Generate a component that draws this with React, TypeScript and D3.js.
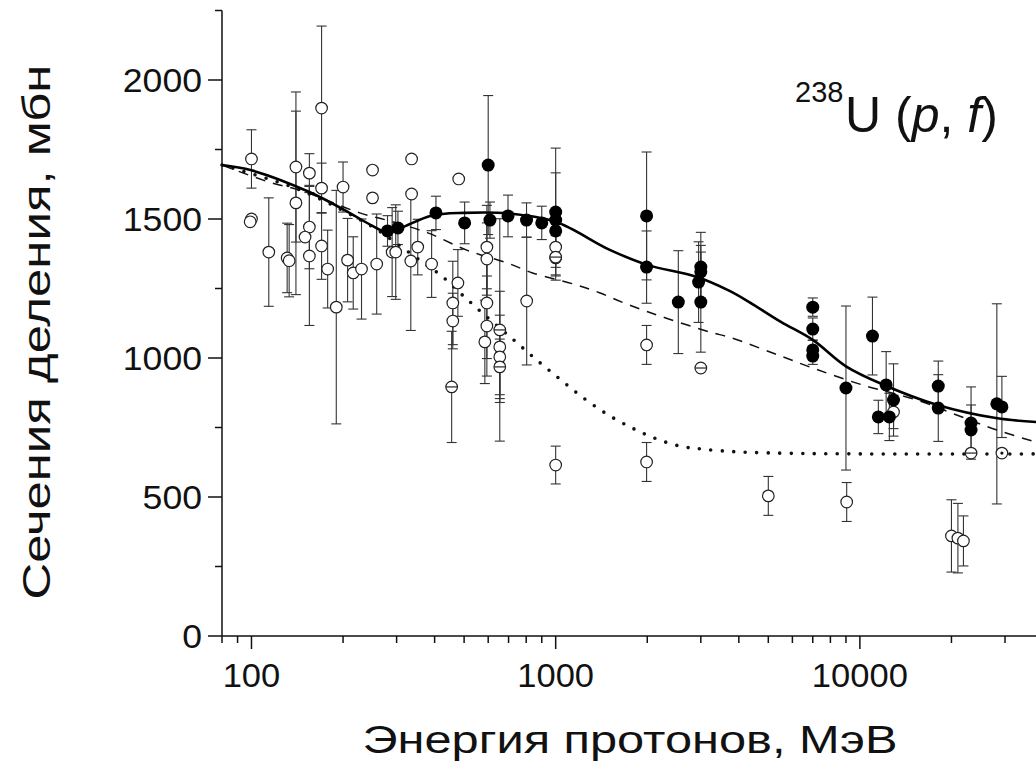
import * as d3 from 'd3';

const W = 1036;
const H = 773;

const X_TICKS = [100, 1000, 10000];
const Y_TICKS = [0, 500, 1000, 1500, 2000];
const Y_MINOR = [250, 750, 1250, 1750, 2250];

// model curves: [energy MeV, cross-section mb]
const solidCurve: [number, number][] = [
  [80, 1694], [100, 1675], [155, 1597], [210, 1522], [250, 1475], [278, 1453], [310, 1468],
  [390, 1512], [500, 1522], [700, 1520], [1000, 1490], [1500, 1390], [2000, 1335],
  [2900, 1292], [3700, 1243], [4300, 1203], [5500, 1130], [7000, 1065], [9000, 970],
  [12000, 903], [18000, 831], [28000, 784], [40000, 768],
];

const dashedCurve: [number, number][] = [
  [80, 1694], [117, 1629], [144, 1604], [227, 1522], [278, 1496], [380, 1450], [510, 1388],
  [700, 1340], [840, 1306], [1170, 1263], [1400, 1234], [1650, 1201], [1930, 1173],
  [2300, 1144], [3200, 1094], [3800, 1072], [5170, 1018], [7000, 964], [10200, 903],
  [15400, 849], [20800, 795], [28200, 741], [40000, 690],
];

const dottedCurve: [number, number][] = [
  [80, 1694], [140, 1610], [200, 1530], [260, 1460], [314, 1396], [370, 1340], [422, 1295],
  [502, 1219], [599, 1144], [722, 1068], [866, 993], [1040, 921], [1245, 853], [1490, 795],
  [1785, 748], [2110, 712], [2560, 683], [3050, 672], [4030, 662], [6000, 657],
  [10000, 655], [40000, 655],
];

// experimental points: [energy, cross-section, error]
const filledPoints: [number, number, number][] = [
  [280, 1457, 55], [303, 1468, 60], [404, 1522, 60], [502, 1486, 75], [600, 1694, 250],
  [608, 1496, 65], [697, 1511, 75], [802, 1496, 62], [900, 1486, 60], [1000, 1525, 230],
  [1000, 1496, 170], [1000, 1457, 60], [1990, 1511, 230], [1990, 1327, 130],
  [2530, 1201, 185], [3000, 1327, 125], [3000, 1310, 95], [2950, 1273, 145], [3000, 1201, 180],
  [7000, 1183, 33], [7000, 1104, 40], [7000, 1029, 35], [7000, 1007, 30], [9000, 892, 295],
  [11000, 1079, 140], [12200, 903, 120], [11500, 788, 60], [12500, 788, 85], [12900, 849, 130],
  [18100, 899, 90], [18100, 820, 120], [23200, 766, 130], [23200, 741, 90], [28200, 835, 360],
  [29300, 824, 110],
];

const openPoints: [number, number, number][] = [
  [100, 1716, 105], [100, 1500, 0], [99, 1490, 0], [114, 1381, 195], [131, 1360, 125],
  [133, 1350, 130], [140, 1687, 270], [140, 1558, 330], [155, 1665, 70], [155, 1471, 150],
  [150, 1435, 0], [155, 1367, 250], [170, 1899, 295], [170, 1611, 90], [170, 1403, 120],
  [178, 1320, 140], [190, 1183, 420], [200, 1615, 90], [207, 1352, 150], [216, 1306, 130],
  [230, 1320, 180], [250, 1676, 0], [250, 1576, 0], [258, 1338, 180], [290, 1381, 160],
  [298, 1381, 170], [336, 1716, 0], [336, 1590, 0], [334, 1349, 250], [352, 1399, 100],
  [391, 1338, 120], [480, 1644, 0], [477, 1270, 120], [459, 1198, 150], [459, 1133, 100],
  [594, 1399, 150], [594, 1356, 130], [594, 1198, 200], [594, 1115, 180], [585, 1058, 150],
  [655, 1040, 200], [655, 1004, 150], [803, 1205, 230], [1000, 1399, 100], [1000, 1360, 80],
  [1000, 615, 68], [1990, 1047, 70], [1990, 626, 70], [5000, 504, 70], [9050, 482, 70],
  [12900, 806, 60], [20000, 360, 130], [21000, 352, 125], [21900, 342, 90],
];

// open circles with a horizontal bar through them
const barredPoints: [number, number, number][] = [
  [455, 896, 200], [655, 1101, 400], [655, 968, 100], [1000, 1363, 0], [3000, 964, 0],
  [23200, 658, 0],
];

// open circle with a dot inside
const dottedPoints: [number, number, number][] = [[29300, 658, 0]];

const x = d3.scaleLog().domain([80, 40000]).range([222, 222 + 304.2 * Math.log10(40000 / 80)]);
const y = d3.scaleLinear().domain([0, 2250]).range([636, 636 - 2250 * 0.278]);

const xMinor: number[] = [];
[10, 100, 1000, 10000].forEach(d => {
  for (let k = 2; k <= 9; k++) {
    const v = k * d;
    if (v >= 80 && v <= 40000 && !X_TICKS.includes(v)) xMinor.push(v);
  }
});

const line = d3.line<[number, number]>()
  .x(d => x(d[0]))
  .y(d => y(d[1]))
  .curve(d3.curveCatmullRom);

const font = '"Liberation Sans", Arial, Helvetica, sans-serif';

function ErrorBar({ p }: { p: [number, number, number] }) {
  const [e, s, err] = p;
  if (!err) return null;
  const cx = x(e);
  const y1 = y(s + err), y2 = y(s - err);
  return (
    <g stroke="#333" strokeWidth={1.1}>
      <line x1={cx} x2={cx} y1={y1} y2={y2} />
      <line x1={cx - 5} x2={cx + 5} y1={y1} y2={y1} />
      <line x1={cx - 5} x2={cx + 5} y1={y2} y2={y2} />
    </g>
  );
}

export default function App() {
  const allBars = [...openPoints, ...barredPoints, ...dottedPoints, ...filledPoints];
  return (
    <svg width={W} height={H} style={{ position: 'absolute', left: 0, top: 0, background: '#fff' }}
      fontFamily={font}>
      <rect width={W} height={H} fill="#fff" />

      {/* axes */}
      <g stroke="#111" strokeWidth={1.5} fill="none">
        <line x1={222} x2={222} y1={y(2250)} y2={y(0)} />
        <line x1={222} x2={W} y1={y(0)} y2={y(0)} />
        {Y_TICKS.map(t => <line key={'yt' + t} x1={208} x2={222} y1={y(t)} y2={y(t)} />)}
        {Y_MINOR.map(t => <line key={'ym' + t} x1={215} x2={222} y1={y(t)} y2={y(t)} />)}
        {X_TICKS.map(t => <line key={'xt' + t} x1={x(t)} x2={x(t)} y1={y(0)} y2={y(0) + 13} />)}
        {xMinor.map(t => <line key={'xm' + t} x1={x(t)} x2={x(t)} y1={y(0)} y2={y(0) + 7} />)}
      </g>

      {Y_TICKS.map(t => (
        <text key={'yl' + t} x={202} y={y(t)} dy="0.36em" textAnchor="end" fontSize={33}
          textLength={String(t).length * 19.8} lengthAdjust="spacingAndGlyphs" fill="#111">{t}</text>
      ))}
      {X_TICKS.map(t => (
        <text key={'xl' + t} x={x(t)} y={687} textAnchor="middle" fontSize={33}
          textLength={String(t).length * 19.2} lengthAdjust="spacingAndGlyphs" fill="#111">{t}</text>
      ))}

      <text x={630} y={753} textAnchor="middle" fontSize={39} textLength={535} lengthAdjust="spacingAndGlyphs" fill="#111">
        Энергия протонов, МэВ
      </text>
      <text transform="translate(50,332) rotate(-90)" textAnchor="middle" fontSize={39} textLength={535}
        lengthAdjust="spacingAndGlyphs" fill="#111">
        Сечения деления, мбн
      </text>

      <text x={795} y={102} fontSize={29} fill="#111">238</text>
      <text x={845} y={132} fontSize={50} fill="#111">
        U (<tspan fontStyle="italic">p</tspan>, <tspan fontStyle="italic">f</tspan>)
      </text>

      {/* error bars */}
      {allBars.map((p, i) => <ErrorBar key={'eb' + i} p={p} />)}

      {/* curves */}
      <path d={line(dottedCurve) || ''} fill="none" stroke="#111" strokeWidth={3.6}
        strokeDasharray="0,11.5" strokeLinecap="round" />
      <path d={line(dashedCurve) || ''} fill="none" stroke="#111" strokeWidth={1.5} strokeDasharray="10,8" />
      <path d={line(solidCurve) || ''} fill="none" stroke="#000" strokeWidth={2.6} />

      {/* markers */}
      {openPoints.map((p, i) => (
        <circle key={'o' + i} cx={x(p[0])} cy={y(p[1])} r={5.8} fill="#fff" stroke="#222" strokeWidth={1.2} />
      ))}
      {barredPoints.map((p, i) => (
        <g key={'b' + i} stroke="#222" strokeWidth={1.2}>
          <circle cx={x(p[0])} cy={y(p[1])} r={5.8} fill="#fff" />
          <line x1={x(p[0]) - 5.8} x2={x(p[0]) + 5.8} y1={y(p[1])} y2={y(p[1])} />
        </g>
      ))}
      {dottedPoints.map((p, i) => (
        <g key={'d' + i}>
          <circle cx={x(p[0])} cy={y(p[1])} r={5.8} fill="#fff" stroke="#222" strokeWidth={1.2} />
          <circle cx={x(p[0])} cy={y(p[1])} r={1.6} fill="#111" />
        </g>
      ))}
      {filledPoints.map((p, i) => (
        <circle key={'f' + i} cx={x(p[0])} cy={y(p[1])} r={6.5} fill="#000" />
      ))}
    </svg>
  );
}
